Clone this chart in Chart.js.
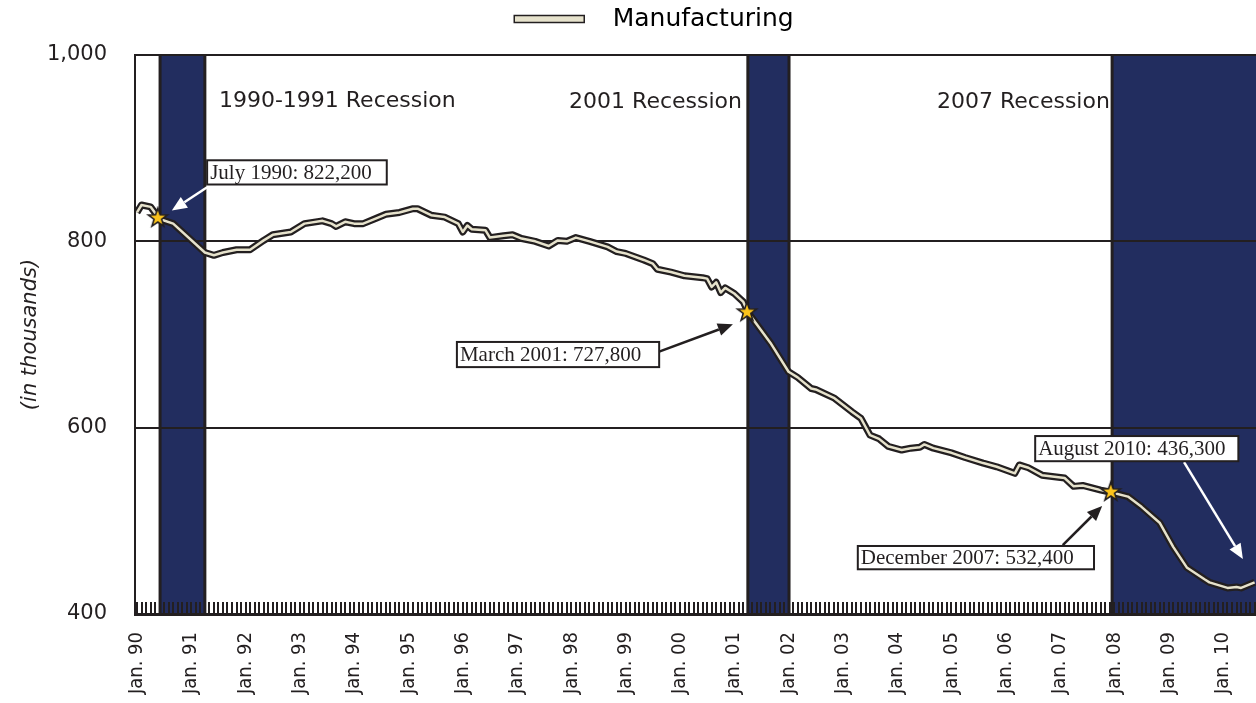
<!DOCTYPE html>
<html>
<head>
<meta charset="utf-8">
<title>Manufacturing employment</title>
<script src="https://cdn.jsdelivr.net/npm/chart.js@4.4.1/dist/chart.umd.min.js"></script>
<style>
  html, body { margin: 0; padding: 0; background: #fff; }
  #wrap { width: 1256px; height: 703px; }
</style>
</head>
<body>
<div id="wrap"><canvas id="chart" width="1256" height="703"></canvas></div>
<script>
// --- data (employment, in thousands) ---
// x = months since Jan. 1990
const lineMonths = [0, 1, 3, 5, 8, 15, 17, 19, 22, 25, 28, 30, 34, 37, 41, 43, 44, 46, 48, 50,
  53, 55, 58, 61, 62, 65, 68, 71, 72, 73, 74, 77, 78, 81, 83, 85, 88, 91, 93, 95,
  97, 100, 102, 104, 106, 108, 112, 114, 115, 118, 121, 125, 126, 127, 128, 129, 130, 132, 134, 135,
  140, 144, 146, 149, 150, 154, 158, 160, 161, 162, 164, 166, 169, 171, 173, 174, 176, 180, 183, 187,
  190, 194, 195, 197, 200, 205, 207, 209, 213, 215, 219, 222, 226, 229, 232, 236, 237, 241, 243, 244, 247];
const lineValues = [831, 839, 837, 824, 819, 788, 785, 788, 791, 791, 801, 807, 810, 819, 822, 819, 816, 821, 819, 819,
  825, 829, 831, 835, 835, 828, 826, 819, 810, 817, 813, 812, 804, 806, 807, 803, 800, 795, 801, 800,
  804, 800, 797, 794, 789, 787, 780, 776, 770, 767, 763, 761, 760, 751, 756, 745, 750, 744, 735, 724,
  691, 660, 654, 642, 641, 632, 617, 610, 601, 592, 588, 580, 576, 578, 579, 582, 578, 573, 568, 562,
  558, 551, 560, 557, 549, 546, 537, 538, 533, 531, 526, 515, 498, 472, 450, 437, 434, 428, 429, 428, 434];

// starred months (July 1990, March 2001, December 2007)
const starMonths = [4.6, 134.8, 215.2];
const starValues = [825, 724, 531];

// shaded recessions
const recessionStart = [5.1, 135, 215.5];
const recessionEnd = [15, 144.1, 250];

const yearTicks = [0, 12, 24, 36, 48, 60, 72, 84, 96, 108, 120, 132, 144, 156, 168, 180, 192, 204, 216, 228, 240];
const yearLabels = ['Jan. 90', 'Jan. 91', 'Jan. 92', 'Jan. 93', 'Jan. 94', 'Jan. 95', 'Jan. 96', 'Jan. 97',
  'Jan. 98', 'Jan. 99', 'Jan. 00', 'Jan. 01', 'Jan. 02', 'Jan. 03', 'Jan. 04', 'Jan. 05', 'Jan. 06',
  'Jan. 07', 'Jan. 08', 'Jan. 09', 'Jan. 10'];
const lastMonth = 247;

const recessionNames = ['1990-1991 Recession', '2001 Recession', '2007 Recession'];
const calloutTexts = ['July 1990: 822,200', 'March 2001: 727,800', 'December 2007: 532,400', 'August 2010: 436,300'];

// --- styling ---
const ink = '#231f20';
const navy = '#222d5f';
const cream = '#e6e2cc';

// where the notes sit, in chart units (month, thousands)
const recessionNoteAt = [[18.1, 950], [95.5, 949], [176.8, 949]];
const callouts = [
  { box: [15.5, 887, 55.2, 861], from: [15.5, 858], to: [7.7, 833], color: '#ffffff' },
  { box: [70.7, 692, 115.4, 665], from: [115.1, 681], to: [131.7, 711], color: ink },
  { box: [159.3, 473, 211.5, 448], from: [204.6, 474], to: [213.3, 516], color: ink },
  { box: [198.5, 591, 243.4, 564], from: [231.4, 563], to: [244.4, 459], color: '#ffffff' }
];

// yellow star used as point style
const starImg = document.createElement('canvas');
starImg.width = starImg.height = 24;
(function() {
  const c = starImg.getContext('2d');
  c.beginPath();
  for (let k = 0; k < 10; k++) {
    const r = k % 2 ? 4 : 10;
    const a = -Math.PI / 2 + k * Math.PI / 5;
    c.lineTo(12 + r * Math.cos(a), 12 + r * Math.sin(a));
  }
  c.closePath();
  c.fillStyle = '#fbc31c';
  c.fill();
  c.lineWidth = 1.6;
  c.strokeStyle = ink;
  c.stroke();
})();

// bands + monthly tick marks, drawn before the grid so the grid sits on top
const backdrop = {
  id: 'backdrop',
  beforeDraw(chart) {
    const { ctx, chartArea: a, scales: { x } } = chart;
    ctx.save();
    ctx.beginPath();
    ctx.rect(a.left, a.top, a.right - a.left, a.bottom - a.top);
    ctx.clip();
    recessionStart.forEach((s, i) => {
      const x0 = x.getPixelForValue(s);
      const x1 = x.getPixelForValue(recessionEnd[i]);
      ctx.fillStyle = navy;
      ctx.fillRect(x0, a.top, x1 - x0, a.bottom - a.top);
      ctx.strokeStyle = ink;
      ctx.lineWidth = 3;
      ctx.beginPath();
      ctx.moveTo(x0, a.top); ctx.lineTo(x0, a.bottom);
      ctx.moveTo(x1, a.top); ctx.lineTo(x1, a.bottom);
      ctx.stroke();
    });
    ctx.lineWidth = 2;
    ctx.strokeStyle = ink;
    ctx.beginPath();
    for (let m = 0; m <= lastMonth; m++) {
      const px = Math.round(x.getPixelForValue(m));
      ctx.moveTo(px, a.bottom);
      ctx.lineTo(px, a.bottom - 12);
    }
    ctx.stroke();
    ctx.restore();
  }
};

function arrow(ctx, x0, y0, x1, y1, color) {
  const ang = Math.atan2(y1 - y0, x1 - x0), head = 15, half = 6.5;
  const bx = x1 - head * Math.cos(ang), by = y1 - head * Math.sin(ang);
  ctx.strokeStyle = color;
  ctx.fillStyle = color;
  ctx.lineWidth = 2.5;
  ctx.beginPath(); ctx.moveTo(x0, y0); ctx.lineTo(bx, by); ctx.stroke();
  ctx.beginPath();
  ctx.moveTo(x1, y1);
  ctx.lineTo(bx + half * Math.sin(ang), by - half * Math.cos(ang));
  ctx.lineTo(bx - half * Math.sin(ang), by + half * Math.cos(ang));
  ctx.closePath();
  ctx.fill();
}

const notes = {
  id: 'notes',
  afterDatasetsDraw(chart) {
    const { ctx, scales: { x, y } } = chart;
    const px = v => x.getPixelForValue(v), py = v => y.getPixelForValue(v);
    ctx.save();
    ctx.textBaseline = 'middle';
    ctx.textAlign = 'left';
    ctx.fillStyle = ink;
    ctx.font = '22px "DejaVu Sans"';
    recessionNames.forEach((t, i) => {
      ctx.fillText(t, px(recessionNoteAt[i][0]), py(recessionNoteAt[i][1]));
    });
    callouts.forEach((c, i) => {
      arrow(ctx, px(c.from[0]), py(c.from[1]), px(c.to[0]), py(c.to[1]), c.color);
      const l = px(c.box[0]), t = py(c.box[1]), r = px(c.box[2]), b = py(c.box[3]);
      ctx.fillStyle = '#fff';
      ctx.fillRect(l, t, r - l, b - t);
      ctx.strokeStyle = ink;
      ctx.lineWidth = 2;
      ctx.strokeRect(l, t, r - l, b - t);
      ctx.fillStyle = ink;
      ctx.font = '21px "Liberation Serif"';
      ctx.fillText(calloutTexts[i], l + 3, (t + b) / 2 + 1);
    });
    ctx.restore();
  }
};

// legend sits right of centre and close to the top in the original
const legendNudge = {
  id: 'legendNudge',
  afterLayout(chart) {
    const l = chart.legend;
    if (!l || !l.lineWidths) return;
    const start = (l.left + l.right - l.lineWidths[0]) / 2;
    const dx = 511 - start;
    l.left += dx; l.right += dx;
    l.top -= 13.5; l.bottom -= 13.5;
  }
};

Chart.defaults.font.family = '"DejaVu Sans", sans-serif';
Chart.defaults.color = ink;

const points = lineMonths.map((m, i) => ({ x: m, y: lineValues[i] }));

new Chart(document.getElementById('chart').getContext('2d'), {
  type: 'line',
  data: {
    datasets: [
      {
        type: 'scatter',
        label: 'stars',
        data: starMonths.map((m, i) => ({ x: m, y: starValues[i] })),
        pointStyle: starImg,
        pointRadius: 9,
        pointHoverRadius: 9
      },
      {
        label: 'Manufacturing',
        data: points,
        borderColor: cream,
        borderWidth: 2.5,
        pointRadius: 0,
        tension: 0,
        borderJoinStyle: 'round'
      },
      {
        label: 'outline',
        data: points,
        borderColor: ink,
        borderWidth: 7,
        pointRadius: 0,
        tension: 0,
        borderJoinStyle: 'round'
      }
    ]
  },
  options: {
    responsive: false,
    animation: false,
    events: [],
    layout: { autoPadding: false, padding: { top: 13.5, left: 0, right: 0, bottom: 0 } },
    scales: {
      x: {
        type: 'linear',
        min: -0.44,
        max: 247.3,
        afterBuildTicks: s => { s.ticks = yearTicks.map(v => ({ value: v })); },
        afterFit: s => { s.height = 89; s.paddingLeft = 0; s.paddingRight = 0; },
        grid: { display: false, drawTicks: false },
        border: { display: true, color: ink, width: 3 },
        ticks: {
          autoSkip: false,
          minRotation: 90,
          maxRotation: 90,
          padding: 18,
          color: ink,
          font: { family: '"DejaVu Sans Condensed", "DejaVu Sans", sans-serif', size: 20 },
          callback: (v, i) => yearLabels[i]
        }
      },
      y: {
        min: 400,
        max: 1000,
        afterFit: s => { s.width = 135; },
        grid: { color: ink, lineWidth: 2, drawTicks: false },
        border: { display: true, color: ink, width: 2 },
        ticks: {
          stepSize: 200,
          padding: 28,
          color: ink,
          font: { family: '"DejaVu Sans"', size: 21 },
          callback: v => v.toLocaleString('en-US')
        },
        title: {
          display: true,
          text: '(in thousands)',
          color: ink,
          font: { family: '"DejaVu Sans"', size: 21, style: 'italic' },
          padding: { top: 18, bottom: 0 }
        }
      }
    },
    plugins: {
      tooltip: { enabled: false },
      legend: {
        position: 'top',
        labels: {
          boxWidth: 70,
          boxHeight: 7,
          padding: 6.5,
          color: ink,
          font: { family: '"DejaVu Sans"', size: 25 },
          generateLabels: () => [{
            text: '  Manufacturing',
            fillStyle: cream,
            strokeStyle: ink,
            lineWidth: 1.5,
            hidden: false,
            datasetIndex: 1
          }]
        }
      }
    }
  },
  plugins: [backdrop, notes, legendNudge]
});
</script>
</body>
</html>
